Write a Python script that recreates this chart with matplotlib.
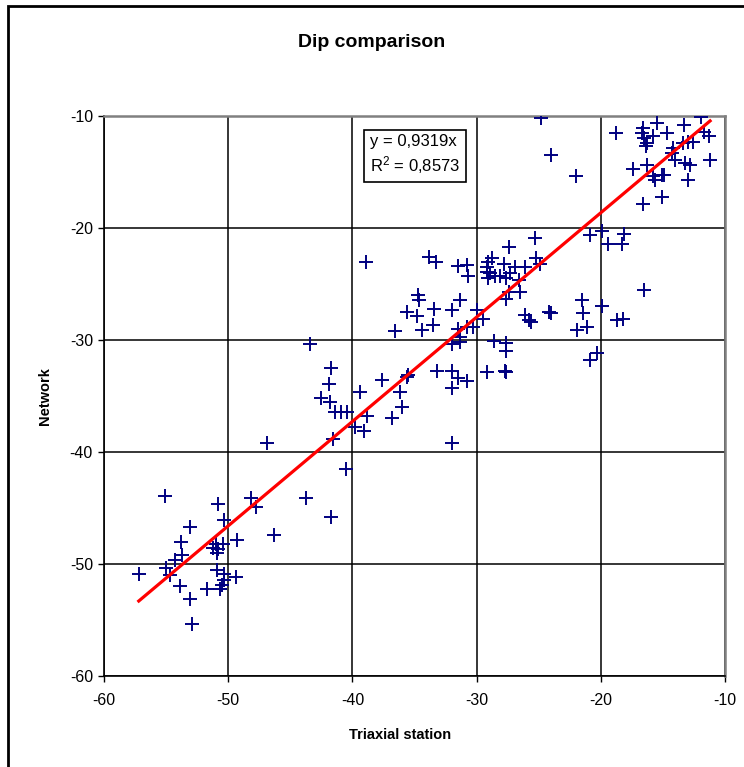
import matplotlib
matplotlib.use("Agg")
import matplotlib.pyplot as plt
from matplotlib.patches import Rectangle

plt.rcParams['font.family'] = ['Liberation Sans', 'DejaVu Sans']
plt.rcParams['axes.unicode_minus'] = False
plt.rcParams['mathtext.fontset'] = 'custom'
plt.rcParams['mathtext.rm'] = 'Liberation Sans'
plt.rcParams['mathtext.default'] = 'regular'

# Triaxial station dip vs network dip
triaxial = [
    -55.1, -50.8, -48.2, -47.8, -50.3, -53.1, -53.8, -49.3, -46.3, -51.0,
    -50.4, -51.2, -50.8, -50.9, -53.7, -54.3, -55.0, -54.7, -57.2, -50.9,
    -50.3, -50.3, -49.4, -53.9, -51.7, -50.7, -50.5, -53.1, -52.9,
    -46.9, -43.7, -41.7, -40.5, -41.6, -43.4, -41.7, -41.9, -42.5, -41.8,
    -41.4, -40.9, -40.4, -39.4, -39.8, -39.1, -38.8, -37.6, -36.2, -35.6,
    -36.0, -36.8, -36.6, -38.9, -35.6,
    -33.8, -33.3, -31.5, -30.8, -30.7, -29.2, -29.1, -29.2, -28.9, -28.8,
    -29.1, -28.5, -27.8, -28.1, -27.6, -27.3, -27.4, -26.9, -26.6, -26.1,
    -25.3, -25.2, -24.9, -26.5, -27.6, -27.4, -34.7, -34.6, -33.4, -31.3,
    -32.0, -34.8, -33.5, -34.4, -30.0, -29.5, -30.3, -30.8, -31.5, -31.3,
    -32.0, -31.3, -28.6, -27.6, -27.6, -26.1, -25.8, -25.6, -24.2, -24.0,
    -35.5, -33.2, -32.0, -31.5, -30.8, -32.0, -32.0, -29.2, -27.7, -27.6,
    -20.9, -19.9, -19.4, -18.3, -18.1, -16.5, -21.5, -21.4, -19.9, -21.1,
    -21.9, -18.7, -18.2, -20.3, -20.9,
    -24.8, -24.0, -22.0, -18.8, -16.7, -16.6, -16.5, -16.3, -16.4, -15.5,
    -15.8, -14.7, -13.3, -11.9, -11.7, -11.3, -14.2, -14.3, -13.4, -13.0,
    -12.6, -14.0, -13.2, -12.8, -13.0, -11.2, -17.4, -16.3, -15.8, -15.1,
    -14.9, -15.6, -15.1, -16.6,
]
network = [
    -43.9, -44.6, -44.1, -44.9, -46.1, -46.7, -48.0, -47.9, -47.4, -48.2,
    -48.2, -48.6, -48.7, -49.0, -49.2, -49.6, -50.4, -51.0, -50.9, -50.5,
    -50.9, -51.4, -51.2, -52.0, -52.2, -52.2, -51.9, -53.1, -55.4,
    -39.2, -44.1, -45.8, -41.5, -38.8, -30.4, -32.5, -33.9, -35.2, -35.5,
    -36.4, -36.4, -36.4, -34.6, -37.8, -38.1, -36.8, -33.6, -34.6, -33.3,
    -36.0, -37.0, -29.2, -23.0, -27.5,
    -22.6, -23.0, -23.4, -23.3, -24.3, -23.5, -23.0, -23.9, -24.0, -22.7,
    -24.5, -24.3, -23.2, -24.3, -24.5, -24.0, -21.7, -23.5, -24.6, -23.5,
    -20.9, -22.7, -23.2, -25.7, -26.3, -25.7, -26.0, -26.4, -27.2, -26.4,
    -27.3, -27.9, -28.7, -29.1, -27.3, -28.1, -28.8, -28.8, -29.0, -29.7,
    -30.4, -30.2, -30.1, -30.3, -31.0, -27.8, -28.2, -28.4, -27.5, -27.6,
    -33.1, -32.8, -32.8, -33.4, -33.7, -34.3, -39.2, -32.9, -32.8, -32.9,
    -20.6, -20.3, -21.4, -21.4, -20.5, -25.5, -26.4, -27.6, -27.0, -28.8,
    -29.1, -28.2, -28.1, -31.2, -31.8,
    -10.2, -13.5, -15.4, -11.5, -11.5, -11.1, -12.0, -12.4, -12.7, -10.6,
    -11.8, -11.5, -10.8, -10.1, -11.4, -11.8, -12.9, -13.3, -12.4, -12.3,
    -12.3, -13.9, -14.2, -14.4, -15.7, -13.9, -14.7, -14.4, -15.4, -15.3,
    -15.3, -15.7, -17.2, -17.9,
]

slope = 0.9319
r2 = 0.8573

fig = plt.figure(figsize=(7.44, 7.67), dpi=100)
ax = fig.add_axes([104 / 744, 1 - 676 / 767, 621 / 744, 560 / 767])

# chart area border (cut off at right/bottom in the original)
fig.patches.append(Rectangle((8 / 744, -0.05), 1.1, 1 - 6 / 767 + 0.05,
                             transform=fig.transFigure, fill=False,
                             edgecolor="black", linewidth=2))

ax.plot(triaxial, network, linestyle="none", marker="+", color="#000080",
        markersize=10.5, markeredgewidth=1.4, zorder=3)

xs = [min(triaxial), max(triaxial)]
ax.plot(xs, [slope * v for v in xs], color="#ff0000", linewidth=2.3, zorder=4)

ax.set_xlim(-60, -10)
ax.set_ylim(-60, -10)
ax.set_xticks(range(-60, -9, 10))
ax.set_yticks(range(-60, -9, 10))
ax.grid(True, color="black", linewidth=1.1)
ax.set_axisbelow(True)
ax.tick_params(direction="out", length=4, width=1, labelsize=11.5, colors="black")
ax.tick_params(axis="x", pad=8)
ax.tick_params(axis="y", pad=4)

for side in ["left", "bottom"]:
    ax.spines[side].set_color("black")
    ax.spines[side].set_linewidth(1.2)
for side in ["top", "right"]:
    ax.spines[side].set_color("#808080")
    ax.spines[side].set_linewidth(1.8)

ax.text(0.428, 0.968, f"y = 0,{int(slope * 10000)}x\nR$^2$ = 0,{int(round(r2 * 10000))}",
        transform=ax.transAxes, ha="left", va="top", fontsize=12, linespacing=1.3,
        bbox=dict(boxstyle="square,pad=0.35", facecolor="white", edgecolor="black", linewidth=1.2))

fig.text(0.5, 0.944, "Dip comparison", ha="center", va="center", fontsize=14, fontweight="bold")
fig.text(0.538, 0.042, "Triaxial station", ha="center", va="center", fontsize=10.5, fontweight="bold")
fig.text(0.0605, 0.4837, "Network", ha="center", va="center", rotation=90, fontsize=10.5, fontweight="bold")

fig.savefig("out.png", dpi=100)
